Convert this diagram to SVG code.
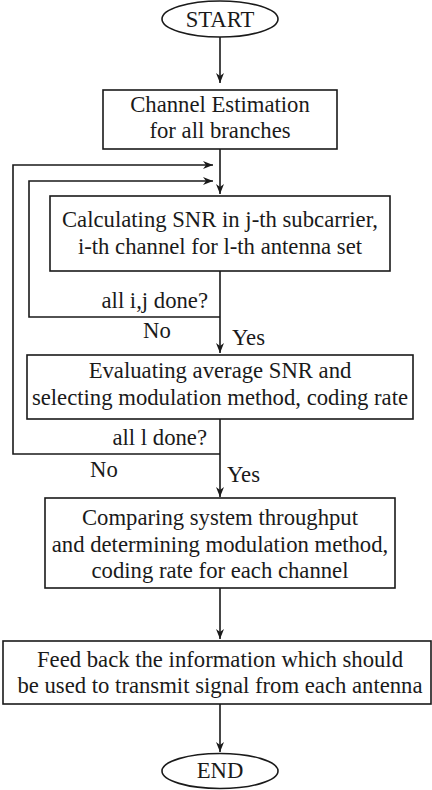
<svg xmlns="http://www.w3.org/2000/svg" width="432" height="790" viewBox="0 0 432 790">
<defs>
<marker id="ah" markerWidth="10" markerHeight="8" refX="10" refY="4" orient="auto" markerUnits="userSpaceOnUse">
<path d="M0,0 L10,4 L0,8 L3,4 Z" fill="#1a1a1a"/>
</marker>
<style>
.box{fill:#fff;stroke:#1a1a1a;stroke-width:1.6}
.t{font-family:"Liberation Serif","Times New Roman",Times,serif;font-size:22.7px;fill:#1a1a1a;text-anchor:middle}
.l{font-family:"Liberation Serif","Times New Roman",Times,serif;font-size:22.7px;fill:#1a1a1a}
.c{fill:none;stroke:#1a1a1a;stroke-width:1.6}
.a{marker-end:url(#ah)}
</style>
</defs>
<rect width="432" height="790" fill="#fff"/>
<g id="connectors">
<line class="c a" x1="220" y1="37" x2="220" y2="83"/>
<line class="c a" x1="220" y1="149" x2="220" y2="194"/>
<polyline class="c a" points="220,454 13,454 13,165 213,165"/>
<polyline class="c a" points="220,317 29,317 29,181 213,181"/>
<line class="c a" x1="220" y1="271" x2="220" y2="353"/>
<line class="c a" x1="220" y1="419" x2="220" y2="497"/>
<line class="c a" x1="220" y1="588" x2="220" y2="639"/>
<line class="c a" x1="220" y1="704" x2="220" y2="752"/>
<text class="l" x="208" y="308" text-anchor="end">all i,j done?</text>
<text class="l" x="143" y="338">No</text>
<text class="l" x="232" y="345">Yes</text>
<text class="l" x="207" y="445" text-anchor="end">all l done?</text>
<text class="l" x="90" y="477">No</text>
<text class="l" x="227" y="482">Yes</text>
</g>
<g id="start">
<ellipse class="box" cx="220" cy="19" rx="58" ry="18"/>
<text class="t" x="220" y="27">START</text>
</g>
<g id="channel-estimation">
<rect class="box" x="103" y="90" width="234" height="59"/>
<text class="t" x="220" y="112">Channel Estimation</text>
<text class="t" x="220" y="138">for all branches</text>
</g>
<g id="calc-snr">
<rect class="box" x="50" y="196" width="340" height="75"/>
<text class="t" x="220" y="227">Calculating SNR in j-th subcarrier,</text>
<text class="t" x="220" y="254">i-th channel for l-th antenna set</text>
</g>
<g id="eval-snr">
<rect class="box" x="27" y="355" width="386" height="64"/>
<text class="t" x="220" y="378">Evaluating average SNR and</text>
<text class="t" x="220" y="405">selecting modulation method, coding rate</text>
</g>
<g id="compare">
<rect class="box" x="45" y="498" width="350" height="90"/>
<text class="t" x="220" y="525">Comparing system throughput</text>
<text class="t" x="220" y="552">and determining modulation method,</text>
<text class="t" x="220" y="578">coding rate for each channel</text>
</g>
<g id="feedback">
<rect class="box" x="3" y="641" width="428" height="63"/>
<text class="t" x="220" y="667">Feed back the information which should</text>
<text class="t" x="220" y="693">be used to transmit signal from each antenna</text>
</g>
<g id="end">
<ellipse class="box" cx="220" cy="771" rx="58" ry="17.5"/>
<text class="t" x="220" y="778">END</text>
</g>
</svg>
